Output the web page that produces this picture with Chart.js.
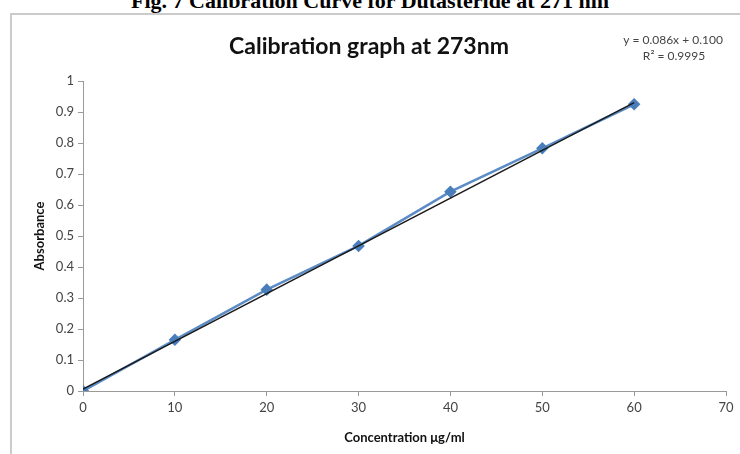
<!DOCTYPE html>
<html>
<head>
<meta charset="utf-8">
<script src="https://cdn.jsdelivr.net/npm/chart.js@4/dist/chart.umd.min.js"></script>
<style>
  html, body { margin: 0; padding: 0; background: #fff; }
  #wrap { position: relative; width: 740px; height: 454px; overflow: hidden; }
  #box { position: absolute; left: 10px; top: 13px; width: 760px; height: 480px; border: 2px solid #cbcbcb; box-sizing: border-box; }
  #fig { position: absolute; left: 0; top: -12px; width: 740px; text-align: center; font: bold 22px "Liberation Serif", "DejaVu Serif", serif; color: #000; white-space: nowrap; }
  canvas { position: absolute; left: 0; top: 0; }
</style>
</head>
<body>
<div id="wrap">
  <div id="box"></div>
  <div id="fig">Fig. 7 Calibration Curve for Dutasteride at 271 nm</div>
  <canvas id="c" width="740" height="454"></canvas>
</div>
<script>
const chartTitle = "Calibration graph at 273nm";
const equationText = "y = 0.086x + 0.100";
const r2Text = "R\u00B2 = 0.9995";
const xAxisTitle = "Concentration \u03BCg/ml";
const yAxisTitle = "Absorbance";

const concentration = [0, 10, 20, 30, 40, 50, 60];
const absorbance = [0.000, 0.165, 0.327, 0.468, 0.643, 0.783, 0.925];

const trendX = [0, 60];
const trendY = [0.006, 0.930];

const FONT = "Lato, 'Open Sans', sans-serif";

const overlayText = {
  id: 'overlayText',
  afterDraw(chart) {
    const ctx = chart.ctx;
    ctx.save();
    ctx.fillStyle = '#111';
    ctx.textAlign = 'center';
    ctx.textBaseline = 'middle';
    ctx.font = "bold 23px " + FONT;
    ctx.fillText(chartTitle, 369, 47);
    ctx.fillStyle = '#444';
    ctx.font = "12px " + FONT;
    ctx.fillText(equationText, 673, 40);
    ctx.fillText(r2Text, 674, 56);
    ctx.restore();
  }
};

new Chart(document.getElementById('c'), {
  type: 'scatter',
  data: {
    datasets: [
      {
        label: 'Linear',
        data: trendX.map((x, i) => ({ x: x, y: trendY[i] })),
        showLine: true,
        borderColor: '#1a1a1a',
        borderWidth: 1.5,
        pointRadius: 0,
        order: 0
      },
      {
        label: 'Absorbance',
        data: concentration.map((x, i) => ({ x: x, y: absorbance[i] })),
        showLine: true,
        borderColor: '#5b8cc6',
        borderWidth: 2.5,
        pointStyle: 'rectRot',
        pointRadius: 4.5,
        pointBackgroundColor: '#4a7ebb',
        pointBorderColor: '#4a7ebb',
        order: 1
      }
    ]
  },
  options: {
    responsive: false,
    animation: false,
    devicePixelRatio: 1,
    layout: { padding: { left: 28, right: 14, top: 81, bottom: 4 } },
    plugins: { legend: { display: false }, tooltip: { enabled: false }, title: { display: false } },
    scales: {
      x: {
        type: 'linear',
        min: 0, max: 70,
        ticks: { stepSize: 10, color: '#444', font: { family: FONT, size: 13 }, padding: 4 },
        grid: { drawOnChartArea: false, drawTicks: true, tickLength: 5, color: '#9a9a9a' },
        border: { display: true, color: '#9a9a9a', width: 1 },
        title: { display: true, text: xAxisTitle, color: '#111', font: { family: FONT, size: 13, weight: 'bold' }, padding: { top: 4, bottom: 4 } },
        afterFit: (s) => { s.height = 59; }
      },
      y: {
        type: 'linear',
        min: 0, max: 1,
        ticks: { stepSize: 0.1, color: '#444', font: { family: FONT, size: 13 }, padding: 4,
                 callback: (v) => String(Math.round(v * 10) / 10) },
        grid: { drawOnChartArea: false, drawTicks: true, tickLength: 5, color: '#9a9a9a' },
        border: { display: true, color: '#9a9a9a', width: 1 },
        title: { display: true, text: yAxisTitle, color: '#111', font: { family: FONT, size: 13, weight: 'bold' }, padding: { top: 4, bottom: 4 } },
        afterFit: (s) => { s.width = 55; }
      }
    }
  },
  plugins: [overlayText]
});
</script>
</body>
</html>
